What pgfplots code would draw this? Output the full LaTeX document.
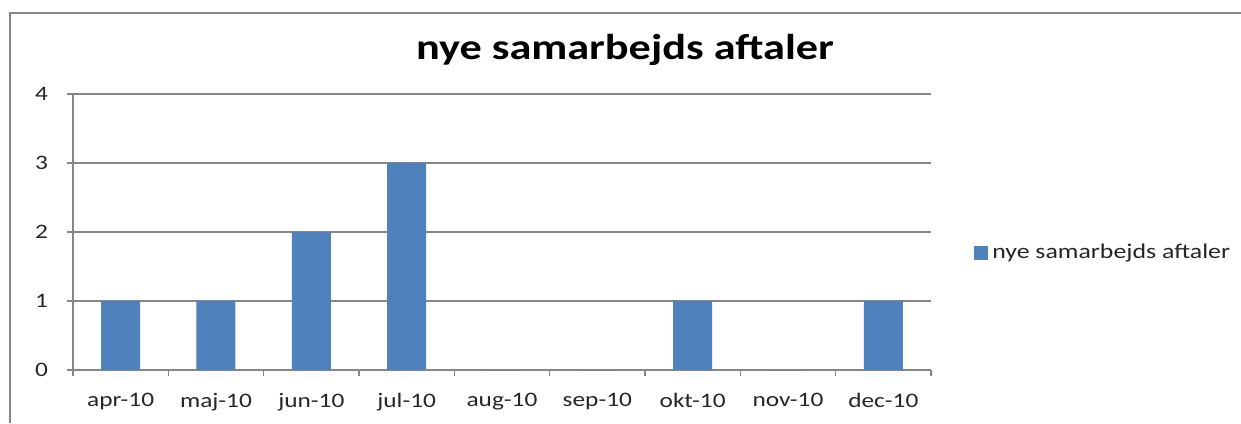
\documentclass[border=0pt]{standalone}
\usepackage{fontspec}
\setmainfont[FakeStretch=1.23]{Carlito}
\usepackage{pgfplots}
\pgfplotsset{compat=1.18}
\definecolor{barblue}{HTML}{4F81BD}
\definecolor{axgray}{HTML}{868686}
\begin{document}
\begin{tikzpicture}
\path[use as bounding box] (0,0) rectangle (620.5pt,-211.5pt);
\draw[axgray, line width=0.8pt] (5pt,-211.5pt) -- (5pt,-6.5pt) -- (620.5pt,-6.5pt);
\node[font=\fontsize{18}{20}\selectfont\bfseries] at (312.5pt,-25pt) {nye samarbejds aftaler};
\begin{axis}[
  at={(36.5pt,-185pt)}, anchor=south west,
  scale only axis, width=429pt, height=138pt,
  ybar, bar width=19.5pt,
  xmin=-0.5, xmax=8.5, ymin=0, ymax=4,
  xtick={0,...,8},
  xticklabels={apr-10,maj-10,jun-10,jul-10,aug-10,sep-10,okt-10,nov-10,dec-10},
  minor xtick={-0.5,0.5,...,8.5},
  ytick={0,...,4},
  major x tick style={draw=none},
  tick align=outside, tick pos=left,
  major tick length=3pt, minor tick length=3pt,
  every tick/.style={axgray, line width=0.6pt},
  ymajorgrids, major grid style={axgray, line width=0.6pt},
  axis x line*=bottom, axis y line*=left,
  axis line style={axgray, line width=0.6pt, -},
  ticklabel style={font=\fontsize{10.3}{12}\selectfont, text=black!85},
  /pgf/number format/assume math mode=true,
  yticklabel style={xshift=-6pt},
  xticklabel style={yshift=-5pt},
  legend style={at={(axis description cs:1.05,0.424)}, anchor=west, draw=none,
    font=\fontsize{10.5}{12}\selectfont, inner xsep=0pt, text=black!85},
  legend image code/.code={\fill[barblue] (-1.5pt,-3.5pt) rectangle (5.5pt,3.5pt);},
]
\addplot[fill=barblue, draw=none] coordinates {
  (0,1) (1,1) (2,2) (3,3) (4,0) (5,0) (6,1) (7,0) (8,1)
};
\addlegendentry{nye samarbejds aftaler}
\end{axis}
\end{tikzpicture}
\end{document}
